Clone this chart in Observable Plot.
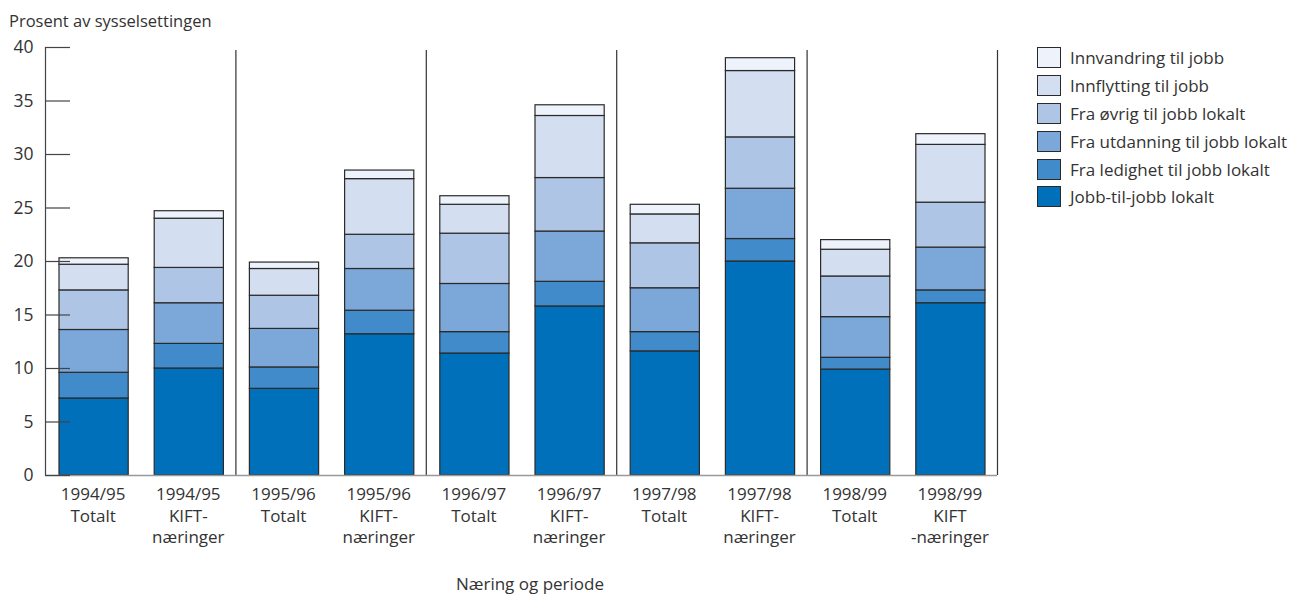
<!DOCTYPE html>
<html><head><meta charset="utf-8">
<script src="https://cdn.jsdelivr.net/npm/d3@7"></script>
<script src="https://cdn.jsdelivr.net/npm/@observablehq/plot@0.6"></script>
<style>
body{margin:0;background:#fff;font-family:"Open Sans",sans-serif;color:#333}
#wrap{position:relative;width:1291px;height:594px;overflow:hidden}
#ylab{position:absolute;left:9px;top:9px;font-size:16.5px;white-space:nowrap}
#xlab{position:absolute;left:530px;top:572px;transform:translateX(-50%);font-size:17px;white-space:nowrap}
#legend{position:absolute;left:1037px;top:44px}
.row{display:flex;align-items:center;height:27.8px}
.sw{width:22px;height:19px;border:1.5px solid #2a2a2a;margin-right:9px;box-sizing:content-box}
.lt{font-size:17px;white-space:nowrap}
</style></head><body><div id="wrap"><div id="ylab">Prosent av sysselsettingen</div><div id="xlab">Næring og periode</div><div id="legend"></div></div>
<script>
const categories = ["1994/95\nTotalt","1994/95\nKIFT-\nnæringer","1995/96\nTotalt","1995/96\nKIFT-\nnæringer","1996/97\nTotalt","1996/97\nKIFT-\nnæringer","1997/98\nTotalt","1997/98\nKIFT-\nnæringer","1998/99\nTotalt","1998/99\nKIFT\n-næringer"];
const seriesNames = ["Jobb-til-jobb lokalt","Fra ledighet til jobb lokalt","Fra utdanning til jobb lokalt","Fra øvrig til jobb lokalt","Innflytting til jobb","Innvandring til jobb"];
const jobbTilJobb   = [7.2, 10.0, 8.1, 13.2, 11.4, 15.8, 11.6, 20.0, 9.9, 16.1];
const fraLedighet   = [2.4, 2.3, 2.0, 2.2, 2.0, 2.3, 1.8, 2.1, 1.1, 1.2];
const fraUtdanning  = [4.0, 3.8, 3.6, 3.9, 4.5, 4.7, 4.1, 4.7, 3.8, 4.0];
const fraOvrig      = [3.7, 3.3, 3.1, 3.2, 4.7, 5.0, 4.2, 4.8, 3.8, 4.2];
const innflytting   = [2.4, 4.6, 2.5, 5.2, 2.7, 5.8, 2.7, 6.2, 2.5, 5.4];
const innvandring   = [0.6, 0.7, 0.6, 0.8, 0.8, 1.0, 0.9, 1.2, 0.9, 1.0];
const yTicks = [0,5,10,15,20,25,30,35,40];
const groupEnds = [2,4,6,8,10];
const colors = ["#0070ba","#428bca","#7ba7d9","#afc5e6","#d3dff1","#eef3fb"];

const seriesValues = [jobbTilJobb, fraLedighet, fraUtdanning, fraOvrig, innflytting, innvandring];
const rows = [];
categories.forEach((c, i) => {
  let base = 0;
  seriesValues.forEach((vals, s) => {
    rows.push({i, series: seriesNames[s], y1: base, y2: base + vals[i]});
    base += vals[i];
  });
});

const W = 1291, H = 594, ML = 45, MR = 294, MT = 47, MB = 119;
const chart = Plot.plot({
  width: W, height: H,
  marginLeft: ML, marginRight: MR, marginTop: MT, marginBottom: MB,
  style: {fontFamily: "Open Sans, sans-serif", color: "#333", background: "#fff"},
  x: {domain: [0, categories.length], axis: null},
  y: {domain: [0, 40], axis: null},
  color: {domain: seriesNames, range: colors},
  marks: [
    Plot.rectY(rows, {x1: "i", x2: d => d.i + 1, y1: "y1", y2: "y2", fill: "series", stroke: "#2a2a2a", strokeWidth: 1.2, insetLeft: 14, insetRight: 12}),
    Plot.ruleX(groupEnds, {stroke: "#333", strokeWidth: 1.2, insetTop: 3}),
    Plot.ruleY([0], {stroke: "#999", strokeWidth: 1.5}),
    Plot.ruleX([0], {stroke: "#444", strokeWidth: 1.2}),
    Plot.axisY({ticks: yTicks, tickSize: -25, text: null, stroke: "#444", strokeWidth: 1.2}),
    Plot.axisY({ticks: yTicks, tickSize: 0, tickPadding: 12, fontSize: 17.5, fill: "#333"}),
    Plot.axisX({ticks: categories.map((c, i) => i + 0.5), tickFormat: d => categories[Math.floor(d)], tickSize: 0, tickPadding: 10, fontSize: 17, lineHeight: 1.24, fill: "#333", label: null})
  ]
});
document.getElementById("wrap").prepend(chart);
chart.style.position = "absolute"; chart.style.left = "0"; chart.style.top = "0";

const legend = document.getElementById("legend");
seriesNames.map((n, s) => ({n, c: colors[s]})).reverse().forEach(({n, c}) => {
  const r = document.createElement("div"); r.className = "row";
  const sw = document.createElement("div"); sw.className = "sw"; sw.style.background = c;
  const t = document.createElement("span"); t.className = "lt"; t.textContent = n;
  r.append(sw, t); legend.append(r);
});
</script></body></html>
